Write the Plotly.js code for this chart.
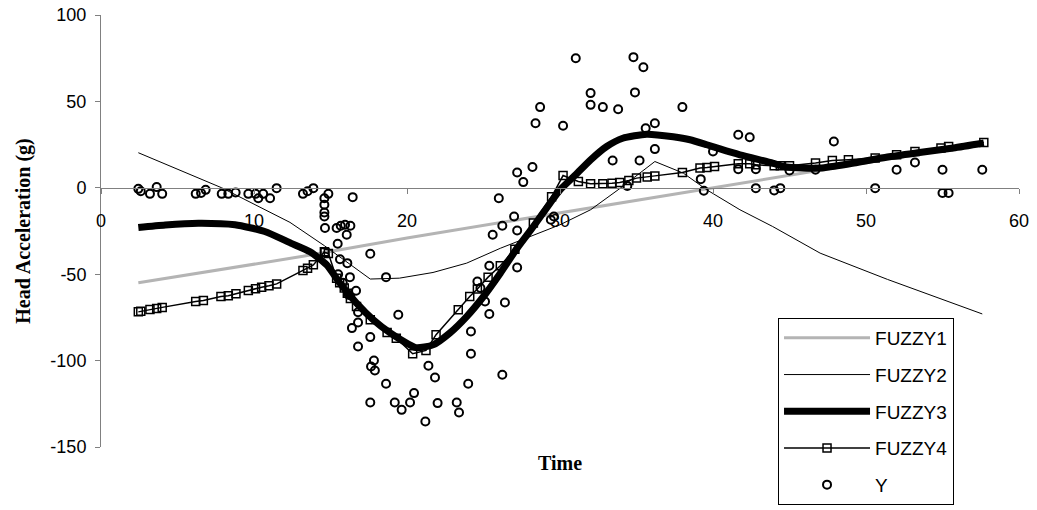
<!DOCTYPE html>
<html>
<head>
<meta charset="utf-8">
<script src="https://cdn.plot.ly/plotly-3.0.1.min.js"></script>
<style>html,body{margin:0;padding:0;background:#fff;}#chart{width:1037px;height:510px;}</style>
</head>
<body>
<div id="chart"></div>
<script>
// ---- data ----
const xTicks = [0, 10, 20, 30, 40, 50, 60];
const yTicks = [-150, -100, -50, 0, 50, 100];

const fuzzy1X = [2.44, 13.3, 20, 30, 41.3, 57.6];
const fuzzy1Y = [-55, -39.5, -29, -14.5, 1.5, 25.5];

const fuzzy2X = [2.44, 5.16, 7.89, 12.35, 14.6, 17.6, 19.5, 21.7, 23.9, 26.1, 28.26, 30, 32, 33.9, 36.2, 38.06, 39.6, 41.76, 43.9, 47, 51.4, 57.6];
const fuzzy2Y = [20.3, 10.4, 0, -20, -33.5, -52.8, -52.3, -49, -43.6, -35, -27.5, -21.4, -12.7, -0.5, 15.2, 8.5, -1.2, -12.7, -22.4, -37.8, -53, -73];

const fuzzy3X = [2.44, 4.2, 6.36, 8.76, 10.7, 12.4, 13.66, 14.75, 15.6, 16.7, 17.8, 18.9, 20, 20.6, 21.7, 22.8, 23.9, 25, 26.1, 27.2, 28.26, 29.35, 30, 30.9, 32, 33.05, 34.1, 35.67, 37.4, 38.5, 39.6, 40.46, 41.76, 43.9, 44.8, 47, 49.2, 51.4, 53.5, 55.7, 57.7];
const fuzzy3Y = [-23, -21.5, -20.5, -21.4, -25.3, -32, -37, -44.6, -55, -66.7, -76.4, -84, -90, -92.5, -90.9, -84, -74.5, -62.9, -49.4, -34.9, -22.4, -8.9, -1.2, 6.5, 16.2, 23.9, 28.7, 31, 29.5, 27.8, 24.9, 22.5, 19.1, 14.3, 12, 11.4, 14.3, 17.8, 20.4, 23, 25.9];

const fuzzy4X = [2.44, 2.6, 3.2, 3.64, 4.0, 6.19, 6.69, 7.84, 8.32, 8.82, 9.63, 10.1, 10.5, 10.98, 11.48, 13.2, 13.5, 13.88, 14.6, 14.64, 14.86, 15.4, 15.6, 15.9, 16.1, 16.3, 16.7, 17.6, 18.7, 19.3, 20.37, 21.24, 21.9, 23.35, 24.1, 24.6, 25.3, 26.1, 27.05, 28.26, 29.45, 30.2, 31.2, 32, 32.8, 33.4, 33.9, 34.5, 35.0, 35.7, 36.2, 38, 39.15, 39.6, 40.1, 41.65, 42.4, 42.8, 44, 44.4, 45, 46.7, 47.8, 48.85, 50.6, 52, 53.2, 54.9, 55.4, 57.7];
const fuzzy4Y = [-71.8, -71.5, -70.5, -69.8, -69.2, -65.8, -65.2, -62.9, -62.5, -61.3, -59.4, -58.4, -57.5, -56.7, -55.6, -47.8, -46.5, -44.6, -37, -37.5, -38, -52.3, -55, -58, -61, -64, -68.7, -76.4, -83.7, -87, -96, -94.1, -85, -70.6, -62.9, -58.6, -51.7, -45.1, -35.5, -20.4, -5.2, 7.1, 3.7, 2.3, 2.3, 2.7, 3.1, 4.2, 5.6, 6.2, 6.9, 8.9, 11.4, 11.7, 12.3, 13.9, 13.9, 13.3, 12.7, 12.7, 12.7, 14.3, 15.8, 16.2, 17.2, 19.1, 21, 23, 23.9, 26.2];

const obsX = [2.44, 2.6, 3.2, 3.64, 4.0, 6.19, 6.54, 6.84, 7.89, 8.32, 8.8, 9.63, 10.1, 10.28, 10.6, 11.05, 11.48, 13.2, 13.5, 13.88,
  14.6, 14.6, 14.6, 14.6, 14.64, 14.86, 15.4, 15.47, 15.5, 15.62, 15.67, 15.8, 15.95, 16.06, 16.1, 16.2, 16.27, 16.3, 16.45, 16.4,
  16.67, 16.8, 16.8, 16.8, 17.6, 17.6, 17.65, 17.6, 17.84, 17.9, 18.63, 18.63, 19.2, 19.43, 19.65, 20.2, 20.46, 21.2, 21.4, 21.83,
  22, 23.25, 23.4, 24.0, 24.18, 24.18, 24.6, 24.8, 25.1, 25.38, 25.38, 25.6, 26, 26.23, 26.23, 26.4, 27, 27.2, 27.2, 27.2,
  27.6, 28.2, 28.4, 28.7, 29.4, 29.6, 30.2, 31.03, 32, 32, 32.8, 33.44, 33.8, 34.4, 34.9, 34.8, 35.2, 35.45, 35.6, 36.2,
  36.2, 38.0, 39.2, 39.4, 40, 41.65, 41.65, 42.4, 42.8, 42.8, 44, 44.4, 45, 46.7, 47.9, 50.6, 52, 53.2, 55, 55, 55.4, 57.6];
const obsY = [-0.6, -2, -3.5, 0.4, -3.5, -3.5, -3, -1.2, -3.5, -3.5, -2.7, -3.5, -3.5, -6, -3.5, -6, -0.2, -3.5, -2, -0.2,
  -6, -9.8, -14.3, -16.6, -23.3, -3.5, -23.3, -32.4, -50, -41.3, -22, -55, -21.4, -27.2, -43.6, -62, -51.7, -22, -5.4, -81.2,
  -59.6, -72, -78, -91.8, -38.2, -86.4, -103.4, -124.2, -99.9, -105.7, -51.7, -113.4, -124.2, -73.5, -128.5, -124.2, -118.8, -135.2, -103, -109.8,
  -124.6, -124.2, -130, -113.4, -83.2, -96, -54.2, -58, -65.8, -73, -45.1, -27.2, -6, -22, -108.2, -66.4, -16.6, -24.7, -46.1, 8.9,
  3.3, 12, 37.4, 46.7, -18.5, -16.6, 35.9, 75, 54.8, 48, 46.7, 15.8, 45.5, 1, 55.2, 75.6, 15.8, 69.8, 34.5, 37.4,
  22.4, 46.7, 5, -1.7, 21, 30.7, 10.8, 29.3, 10.8, -0.2, -1.5, -0.2, 10, 10.4, 26.8, -0.2, 10.4, 14.6, 10.4, -3, -3, 10.4];

const seriesNames = ['FUZZY1', 'FUZZY2', 'FUZZY3', 'FUZZY4', 'Y'];

// ---- traces ----
const traces = [
  {x: fuzzy1X, y: fuzzy1Y, name: seriesNames[0], legendgroup: 'g1', type: 'scatter', mode: 'lines',
   line: {color: '#b4b4b4', width: 3}},
  {x: fuzzy2X, y: fuzzy2Y, name: seriesNames[1], legendgroup: 'g2', type: 'scatter', mode: 'lines',
   line: {color: '#000', width: 1}},
  {x: fuzzy3X, y: fuzzy3Y, name: seriesNames[2], legendgroup: 'g3', type: 'scatter', mode: 'lines',
   line: {color: '#000', width: 7, shape: 'spline', smoothing: 0.6}},
  {x: fuzzy4X, y: fuzzy4Y, name: seriesNames[3], legendgroup: 'g4', type: 'scatter', mode: 'lines+markers',
   line: {color: '#000', width: 1.5},
   marker: {symbol: 'square-open', size: 8, color: '#000', line: {width: 1.5, color: '#000'}}},
  {x: obsX, y: obsY, name: seriesNames[4], legendgroup: 'g5', type: 'scatter', mode: 'markers',
   marker: {symbol: 'circle-open', size: 8, color: '#000', line: {width: 2, color: '#000'}}}
];

const tickFont = {family: 'Liberation Sans, Arial, sans-serif', size: 18, color: '#000'};
const titleFont = {family: 'Liberation Serif, Times New Roman, serif', size: 20, color: '#000', weight: 'bold'};

const layout = {
  width: 1037, height: 510,
  margin: {l: 101, r: 18, t: 15, b: 63, autoexpand: false},
  paper_bgcolor: '#fff', plot_bgcolor: '#fff',
  showlegend: true,
  xaxis: {
    range: [0, 60], showline: false, showgrid: false, zeroline: false,
    ticks: '', showticklabels: false, automargin: false,
    title: {text: 'Time', font: titleFont, standoff: 8}
  },
  xaxis2: {
    overlaying: 'x', matches: 'x', range: [0, 60], anchor: 'free', position: 0.6, side: 'bottom',
    tickvals: xTicks, ticktext: xTicks.map(String), automargin: false,
    showline: true, linecolor: '#808080', linewidth: 1,
    ticks: 'outside', ticklen: 5, tickcolor: '#808080',
    showgrid: false, zeroline: false, tickfont: tickFont, ticklabelstandoff: 12
  },
  yaxis: {
    range: [-150, 100], tickvals: yTicks, ticktext: yTicks.map(String), automargin: false,
    showline: true, linecolor: '#808080', linewidth: 1,
    ticks: 'outside', ticklen: 5, tickcolor: '#808080',
    showgrid: false, zeroline: false, tickfont: tickFont, ticklabelstandoff: 5,
    title: {text: 'Head Acceleration (g)', font: titleFont, standoff: 14}
  },
  legend: {
    x: 0.7375, xanchor: 'left', y: 0.2986, yanchor: 'top',
    bgcolor: '#fff', bordercolor: '#000', borderwidth: 1,
    font: {family: 'Liberation Sans, Arial, sans-serif', size: 19, color: '#000'},
    traceorder: 'grouped', tracegroupgap: 9, itemwidth: 86
  }
};

// an empty trace on xaxis2 so the y=0 axis (ticks and labels) is drawn
traces.push({x: [], y: [], xaxis: 'x2', yaxis: 'y', type: 'scatter', mode: 'markers', showlegend: false, hoverinfo: 'skip'});

Plotly.newPlot('chart', traces, layout, {displayModeBar: false, staticPlot: true});
</script>
</body>
</html>
